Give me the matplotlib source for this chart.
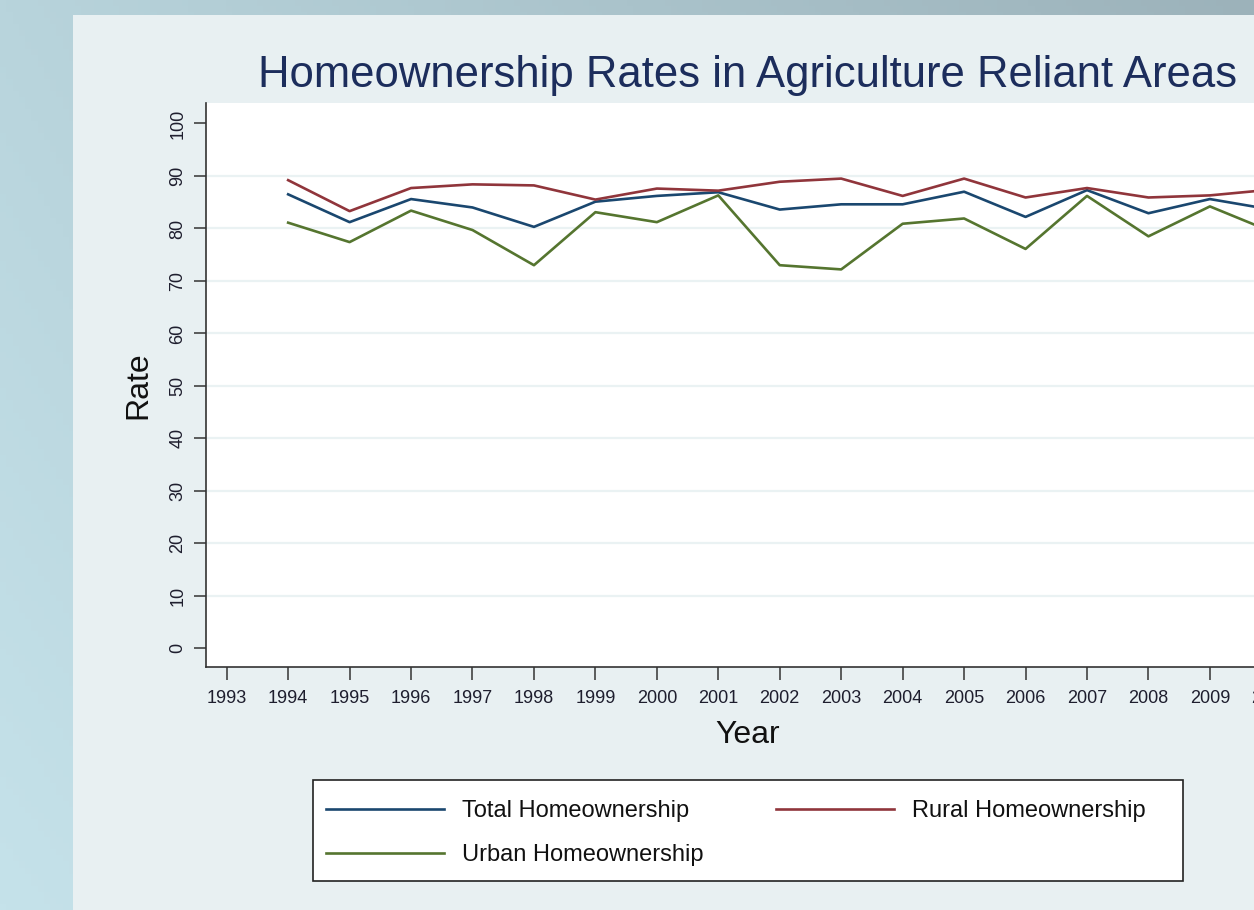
import matplotlib
matplotlib.use("Agg")
import matplotlib.pyplot as plt
import numpy as np
from matplotlib.patches import Rectangle

years = [1994, 1995, 1996, 1997, 1998, 1999, 2000, 2001, 2002, 2003,
         2004, 2005, 2006, 2007, 2008, 2009, 2010]
total = [86.5, 81.2, 85.6, 84.0, 80.3, 85.1, 86.2, 86.9, 83.6, 84.6,
         84.6, 87.0, 82.2, 87.3, 82.9, 85.6, 83.6]
rural = [89.2, 83.3, 87.7, 88.4, 88.2, 85.5, 87.6, 87.2, 88.9, 89.5,
         86.2, 89.5, 85.9, 87.7, 85.9, 86.3, 87.4]
urban = [81.1, 77.4, 83.4, 79.7, 73.0, 83.1, 81.2, 86.3, 73.0, 72.2,
         80.9, 81.9, 76.1, 86.2, 78.5, 84.2, 79.4]
xticks = list(range(1993, 2011))
yticks = list(range(0, 101, 10))

plt.rcParams['font.family'] = ['Liberation Sans', 'DejaVu Sans']

W, H = 1254, 910
fig = plt.figure(figsize=(W / 100, H / 100), dpi=100)

# background gradient
bg = fig.add_axes([0, 0, 1, 1], zorder=-10)
tl = np.array([0xb8, 0xd4, 0xdc]) / 255
tr = np.array([0x9c, 0xb2, 0xba]) / 255
bl = np.array([0xc5, 0xe2, 0xea]) / 255
br = np.array([0xb0, 0xc8, 0xd0]) / 255
u = np.linspace(0, 1, 200)[None, :, None]
v = np.linspace(0, 1, 150)[:, None, None]
img = (1 - v) * ((1 - u) * tl + u * tr) + v * ((1 - u) * bl + u * br)
bg.imshow(img, extent=[0, 1, 0, 1], aspect='auto', origin='upper')
bg.add_patch(Rectangle((73 / W, 0), 1 - 73 / W, 1 - 15 / H,
                       facecolor='#e8f0f2', edgecolor='none'))
# legend frame
bg.add_patch(Rectangle((313 / W, (H - 881) / H), (1183 - 313) / W, (881 - 780) / H,
                       facecolor='white', edgecolor='#222222', lw=1.2))
bg.set_xlim(0, 1)
bg.set_ylim(0, 1)
bg.axis('off')

# main axes (extends past the right edge, like the cropped original)
left = 206 / W
bottom = (H - 667.3) / H
top = (H - 103) / H
right_px = 1290
ax = fig.add_axes([left, bottom, (right_px - 206) / W, top - bottom])
ax.set_facecolor('white')

blue = '#1a476f'
red = '#90353b'
green = '#55752f'
l1, = ax.plot(years, total, color=blue, lw=1.9, label='Total Homeownership')
l2, = ax.plot(years, rural, color=red, lw=1.9, label='Rural Homeownership')
l3, = ax.plot(years, urban, color=green, lw=1.9, label='Urban Homeownership')

x0 = 1993 + (206 - 226.7) / 61.45
x1 = 1993 + (right_px - 226.7) / 61.45
ax.set_xlim(x0, x1)
ax.set_ylim(-3.6, 103.9)
ax.set_xticks(xticks)
ax.set_yticks(yticks)
ax.set_yticklabels([str(t) for t in yticks], rotation=90, va='center')
for t in range(10, 100, 10):
    ax.axhline(t, color='#eaf2f3', lw=1.6, zorder=0)

for s in ['top', 'right']:
    ax.spines[s].set_visible(False)
for s in ['left', 'bottom']:
    ax.spines[s].set_color('#333333')
    ax.spines[s].set_linewidth(1.2)
ax.tick_params(axis='both', direction='out', length=9, width=1.1,
               color='#333333', labelsize=13, labelcolor='#1e1e2e')
ax.tick_params(axis='x', pad=7)
ax.tick_params(axis='y', pad=5)

ax.set_xlabel('Year', fontsize=23, color='#111111', labelpad=10)
ax.set_ylabel('Rate', fontsize=23, color='#111111', labelpad=12)

fig.text(748 / W, 1 - 76 / H, 'Homeownership Rates in Agriculture Reliant Areas',
         ha='center', va='center', fontsize=31.4, color='#1c2d5c')

leg = fig.legend([l1, l3, l2],
                 ['Total Homeownership', 'Urban Homeownership', 'Rural Homeownership'],
                 ncol=2, loc='upper left',
                 bbox_to_anchor=(326 / W, 1 - 800 / H),
                 fontsize=17, handlelength=5.0, handletextpad=0.76,
                 columnspacing=3.05, borderpad=0, labelspacing=0.93,
                 frameon=False, borderaxespad=0)
for t in leg.get_texts():
    t.set_color('#111111')

fig.savefig('out.png', dpi=100)
